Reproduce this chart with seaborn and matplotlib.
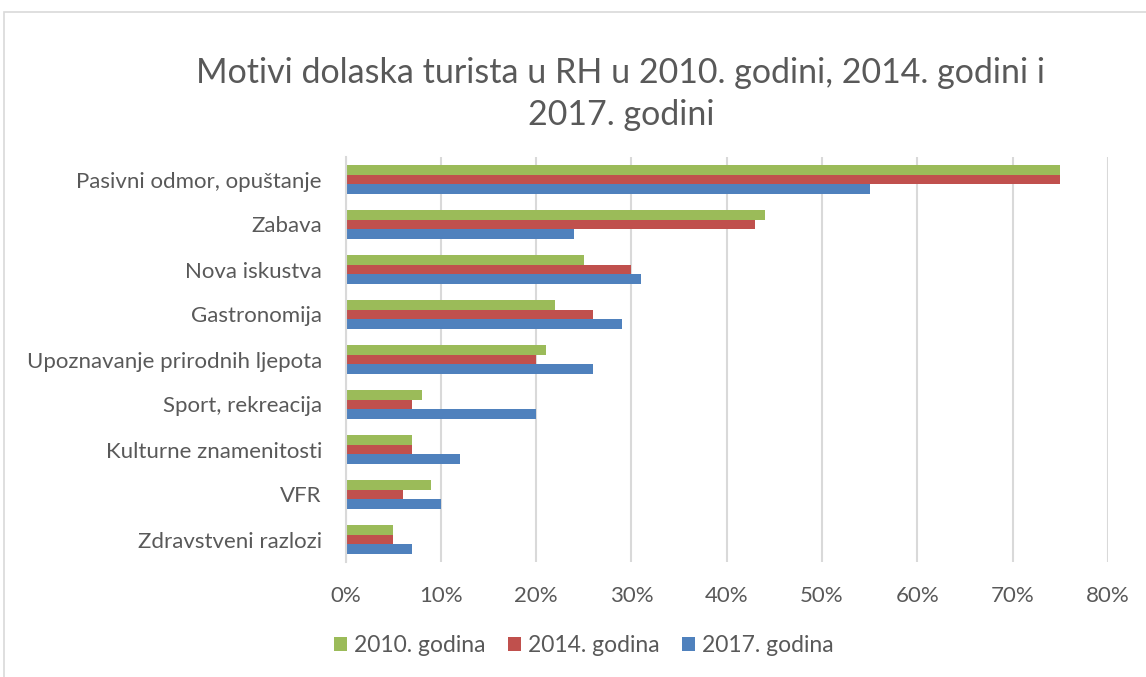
import pandas as pd
import numpy as np
import seaborn as sns
import matplotlib.pyplot as plt
from matplotlib.patches import Rectangle
from matplotlib.ticker import PercentFormatter

categories = ["Pasivni odmor, opuštanje", "Zabava", "Nova iskustva", "Gastronomija",
              "Upoznavanje prirodnih ljepota", "Sport, rekreacija",
              "Kulturne znamenitosti", "VFR", "Zdravstveni razlozi"]
years = ["2010. godina", "2014. godina", "2017. godina"]
v2010 = [75, 44, 25, 22, 21, 8, 7, 9, 5]
v2014 = [75, 43, 30, 26, 20, 7, 7, 6, 5]
v2017 = [55, 24, 31, 29, 26, 20, 12, 10, 7]
colors = ["#9BBB59", "#C0504D", "#4F81BD"]

df = pd.DataFrame({
    "Motiv": categories * 3,
    "Godina": [years[0]] * 9 + [years[1]] * 9 + [years[2]] * 9,
    "Udio": v2010 + v2014 + v2017,
})

sns.set_theme(style="white")
plt.rcParams['font.family'] = ['Lato', 'DejaVu Sans']
txt = "#595959"

fig = plt.figure(figsize=(11.46, 6.77), dpi=100)
W, H = 1146, 677
ax = fig.add_axes([345.5 / W, 1 - 562 / H, (1108 - 345.5) / W, (562 - 157) / H])

sns.barplot(data=df, y="Motiv", x="Udio", hue="Godina", hue_order=years,
            palette=colors, orient="h", width=0.63, ax=ax, legend=True,
            edgecolor="none", saturation=1)

ax.set_xlim(0, 80)
ax.set_xticks(np.arange(0, 81, 10))
ax.xaxis.set_major_formatter(PercentFormatter(decimals=0))
ax.grid(axis="x", color="#D9D9D9", linewidth=1.5)
ax.set_axisbelow(True)
for s in ["top", "right", "bottom"]:
    ax.spines[s].set_visible(False)
ax.spines["left"].set_color("#D9D9D9")
ax.spines["left"].set_linewidth(1.5)
ax.set_xlabel("")
ax.set_ylabel("")
ax.tick_params(axis="both", length=0, labelsize=16, colors=txt)
ax.tick_params(axis="y", pad=17)
ax.tick_params(axis="x", pad=17)

ax.legend(loc="center", bbox_to_anchor=(584 / W, 1 - 646 / H),
          bbox_transform=fig.transFigure, ncol=3, frameon=False,
          fontsize=16.5, labelcolor=txt, handlelength=0.55, handleheight=0.55,
          handletextpad=0.3, columnspacing=1.0)

fig.text(621 / W, 1 - 73 / H, "Motivi dolaska turista u RH u 2010. godini, 2014. godini i",
         ha="center", va="center", fontsize=24.5, color=txt)
fig.text(621 / W, 1 - 115 / H, "2017. godini",
         ha="center", va="center", fontsize=24.5, color=txt)

fig.patches.append(Rectangle((4 / W, -0.01), 1.0, 1 - 12 / H + 0.01,
                             transform=fig.transFigure, fill=False,
                             edgecolor="#D9D9D9", linewidth=1.2))

fig.savefig("out.png", dpi=100)
